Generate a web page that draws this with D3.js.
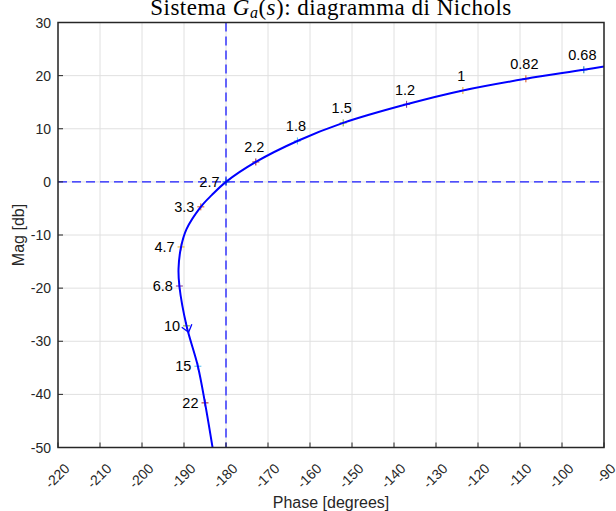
<!DOCTYPE html>
<html><head><meta charset="utf-8">
<script src="https://cdn.jsdelivr.net/npm/d3@7"></script>
<style>body{margin:0;background:#fff} svg{display:block}</style>
</head><body>
<script>
// ---- data ----
const phaseTicks = [-220,-210,-200,-190,-180,-170,-160,-150,-140,-130,-120,-110,-100,-90];
const magTicks = [-50,-40,-30,-20,-10,0,10,20,30];
const freqLabels = ["0.68","0.82","1","1.2","1.5","1.8","2.2","2.7","3.3","4.7","6.8","10","15","22"];
const markerPhase = [-94.8,-108.6,-123.6,-137.0,-152.1,-163.0,-172.9,-180.0,-186.0,-190.7,-191.1,-189.4,-186.7,-185.0];
const markerMag   = [21.1,19.4,17.2,14.6,11.1,7.7,3.75,0.0,-4.7,-12.25,-19.6,-27.1,-34.7,-41.6];
const curvePhase = [-88.0,-94.8,-108.6,-123.6,-137.0,-152.1,-163.0,-172.9,-180.0,-183.4,-186.0,-189.4,-190.7,-191.3,-191.1,-189.4,-186.7,-185.0,-183.2,-182.8];
const curveMag   = [22.0,21.1,19.4,17.2,14.6,11.1,7.7,3.75,0.0,-2.5,-4.7,-8.9,-12.25,-16.3,-19.6,-27.1,-34.7,-41.6,-50.0,-52.0];
const arrowPhase = -188.9, arrowMag = -28.3;
const critPhase = -180, critMag = 0;

const W = 616, H = 511;
const m = {left:58, right:604, top:22.5, bottom:447.5};
const x = d3.scaleLinear().domain([-220,-90]).range([m.left, m.right]);
const y = d3.scaleLinear().domain([-50,30]).range([m.bottom, m.top]);
const palette = ["#0072BD","#D95319","#EDB120","#7E2F8E","#77AC30","#4DBEEE","#A2142F"];
const txt = "#262626";

const svg = d3.select("body").append("svg").attr("width",W).attr("height",H)
  .style("font-family","'Liberation Sans', Arial, sans-serif");

svg.append("defs").append("clipPath").attr("id","clip")
  .append("rect").attr("x",m.left).attr("y",m.top).attr("width",m.right-m.left).attr("height",m.bottom-m.top);

// grid
const g = svg.append("g");
g.selectAll("line.gx").data(phaseTicks).join("line")
  .attr("x1",d=>x(d)).attr("x2",d=>x(d)).attr("y1",m.top).attr("y2",m.bottom)
  .attr("stroke","#e0e0e0").attr("stroke-width",1);
g.selectAll("line.gy").data(magTicks).join("line").attr("class","gy")
  .attr("y1",d=>y(d)).attr("y2",d=>y(d)).attr("x1",m.left).attr("x2",m.right)
  .attr("stroke","#e0e0e0").attr("stroke-width",1);

// dashed critical lines
svg.append("line").attr("x1",m.left).attr("x2",m.right).attr("y1",y(critMag)).attr("y2",y(critMag))
  .attr("stroke","#1a1aff").attr("stroke-width",1.3).attr("stroke-dasharray","9,5");
svg.append("line").attr("x1",x(critPhase)).attr("x2",x(critPhase)).attr("y1",m.top).attr("y2",m.bottom)
  .attr("stroke","#1a1aff").attr("stroke-width",1.3).attr("stroke-dasharray","9,5");

// markers (+) under the curve
const pts = freqLabels.map((f,i)=>({f, px:x(markerPhase[i]), py:y(markerMag[i]), c:palette[i%7], ph:markerPhase[i]}));
const mk = svg.append("g");
pts.forEach(p=>{
  mk.append("path").attr("d",`M${p.px-3.5},${p.py}H${p.px+3.5}M${p.px},${p.py-3.5}V${p.py+3.5}`)
    .attr("stroke",p.c).attr("stroke-width",1).attr("fill","none");
});

// curve
const curve = curvePhase.map((p,i)=>[x(p), y(curveMag[i])]);
svg.append("path").attr("clip-path","url(#clip)").attr("d", d3.line().curve(d3.curveCatmullRom.alpha(0.5))(curve))
  .attr("fill","none").attr("stroke","#0000ff").attr("stroke-width",2);

// arrow (direction of increasing frequency)
{
  const i10 = freqLabels.indexOf("10"), i15 = freqLabels.indexOf("15");
  let dx = x(markerPhase[i15]) - x(markerPhase[i10]), dy = y(markerMag[i15]) - y(markerMag[i10]);
  const L = Math.hypot(dx,dy); dx/=L; dy/=L;
  const tx = x(arrowPhase), ty = y(arrowMag);
  const a = 38*Math.PI/180, len = 8.5;
  const bx = -dx, by = -dy;
  const r = (ang)=>[tx + len*(bx*Math.cos(ang) - by*Math.sin(ang)), ty + len*(bx*Math.sin(ang) + by*Math.cos(ang))];
  const p1 = r(a), p2 = r(-a);
  svg.append("path").attr("d",`M${p1[0]},${p1[1]}L${tx},${ty}L${p2[0]},${p2[1]}`)
    .attr("fill","none").attr("stroke","#0000ff").attr("stroke-width",1.3);
}

// frequency labels
pts.forEach(p=>{
  if (p.ph > -175) {
    svg.append("text").attr("x",p.px-1.5).attr("y",p.py-14.5).attr("text-anchor","middle")
      .attr("dominant-baseline","central").attr("font-size",14.5).attr("fill","#000").text(p.f);
  } else {
    svg.append("text").attr("x",p.px-6.5).attr("y",p.py).attr("text-anchor","end")
      .attr("dominant-baseline","central").attr("font-size",14.5).attr("fill","#000").text(p.f);
  }
});

// axes box
svg.append("rect").attr("x",m.left).attr("y",m.top).attr("width",m.right-m.left).attr("height",m.bottom-m.top)
  .attr("fill","none").attr("stroke",txt).attr("stroke-width",1.5);
// ticks
svg.selectAll("line.tx").data(phaseTicks).join("line").attr("class","tx")
  .attr("x1",d=>x(d)).attr("x2",d=>x(d)).attr("y1",m.bottom).attr("y2",m.bottom-5).attr("stroke",txt).attr("stroke-width",1);
svg.selectAll("line.ty").data(magTicks).join("line").attr("class","ty")
  .attr("y1",d=>y(d)).attr("y2",d=>y(d)).attr("x1",m.left).attr("x2",m.left+5).attr("stroke",txt).attr("stroke-width",1);

// tick labels
svg.selectAll("text.xl").data(phaseTicks).join("text").attr("class","xl")
  .attr("transform",d=>`translate(${x(d)+9},466) rotate(-45)`).attr("text-anchor","end")
  .attr("dominant-baseline","central").attr("font-size",14).attr("fill",txt).text(d=>d);
svg.selectAll("text.yl").data(magTicks).join("text").attr("class","yl")
  .attr("x",m.left-7).attr("y",d=>y(d)).attr("text-anchor","end")
  .attr("dominant-baseline","central").attr("font-size",14).attr("fill",txt).text(d=>d);

// axis labels
svg.append("text").attr("x",(m.left+m.right)/2).attr("y",502).attr("text-anchor","middle")
  .attr("dominant-baseline","central").attr("font-size",16).attr("fill",txt).text("Phase [degrees]");
svg.append("text").attr("transform",`translate(18,${(m.top+m.bottom)/2}) rotate(-90)`).attr("text-anchor","middle")
  .attr("dominant-baseline","central").attr("font-size",16).attr("fill",txt).text("Mag [db]");

// title
const t = svg.append("text").attr("x",(m.left+m.right)/2).attr("y",15).attr("text-anchor","middle")
  .attr("font-family","'Liberation Serif','DejaVu Serif',serif").attr("font-size",23).attr("letter-spacing",0.5).attr("fill","#000");
t.append("tspan").text("Sistema ");
t.append("tspan").attr("font-style","italic").text("G");
t.append("tspan").attr("font-style","italic").attr("font-size",16).attr("dy",3).text("a");
t.append("tspan").attr("dy",-3).text("(");
t.append("tspan").attr("font-style","italic").text("s");
t.append("tspan").text("): diagramma di Nichols");
</script>
</body></html>
